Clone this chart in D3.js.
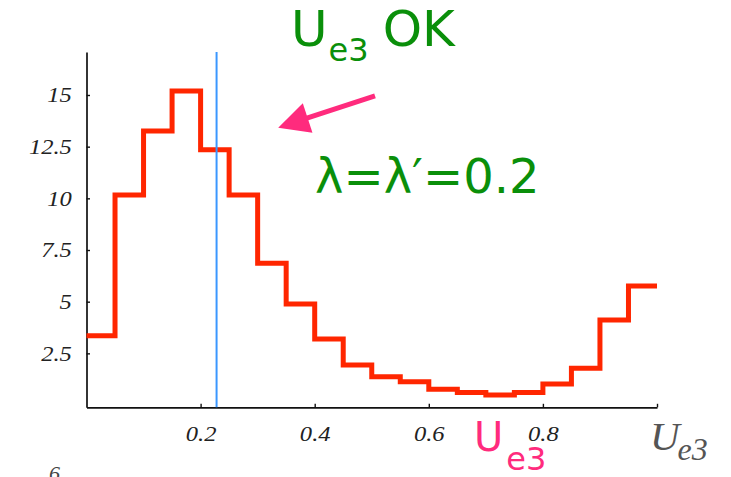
<!DOCTYPE html>
<html>
<head>
<meta charset="utf-8">
<script src="https://cdn.jsdelivr.net/npm/d3@7"></script>
<style>
  html, body { margin: 0; padding: 0; background: #fff; }
  svg { display: block; }
</style>
</head>
<body>
<svg id="chart" width="731" height="477"></svg>
<script>
// Histogram of |U_e3| for lambda = lambda' = 0.2 (20 bins of width 0.05)
const binLower = [0.00, 0.05, 0.10, 0.15, 0.20, 0.25, 0.30, 0.35, 0.40, 0.45,
                  0.50, 0.55, 0.60, 0.65, 0.70, 0.75, 0.80, 0.85, 0.90, 0.95];
const binWidth = 0.05;
const counts = [3.35, 10.16, 13.26, 15.19, 12.35, 10.16, 6.86, 4.89, 3.19, 1.94,
                1.37, 1.13, 0.76, 0.61, 0.48, 0.61, 1.02, 1.78, 4.11, 5.76];

// experimental bound on U_e3
const ue3Bound = 0.228;

const xTickValues = [0.2, 0.4, 0.6, 0.8, 1.0];
const xTickLabels = ["0.2", "0.4", "0.6", "0.8", ""];
const yTickValues = [2.5, 5, 7.5, 10, 12.5, 15];
const yTickLabels = ["2.5", "5", "7.5", "10", "12.5", "15"];

// arrow annotation, in data units: tail and tip
const arrowTail = [0.5057, 14.96];
const arrowTip = [0.336, 13.42];

const svg = d3.select("#chart");

const x = d3.scaleLinear().domain([0, 1]).range([86.5, 657]);
const y = d3.scaleLinear().domain([-0.11, 17.08]).range([407.3, 52]);

const tickFont = "'Liberation Serif', 'Times New Roman', serif";

// x axis
const xAxis = svg.append("g")
  .attr("transform", `translate(0,${y(y.domain()[0])})`)
  .call(d3.axisBottom(x)
    .tickValues(xTickValues)
    .tickFormat((d, i) => xTickLabels[i])
    .tickSizeInner(-3.5)
    .tickSizeOuter(0)
    .tickPadding(18.5));
xAxis.select(".domain").attr("stroke", "#111").attr("stroke-width", 1.7);
xAxis.selectAll(".tick line").attr("stroke", "#111").attr("stroke-width", 1.4);
xAxis.selectAll(".tick text")
  .attr("font-family", tickFont)
  .attr("font-style", "italic")
  .attr("font-size", 21)
  .attr("fill", "#222")
  .attr("transform", "scale(1.17,1)");

// y axis
const yAxis = svg.append("g")
  .attr("transform", `translate(${x(0)},0)`)
  .call(d3.axisLeft(y)
    .tickValues(yTickValues)
    .tickFormat((d, i) => yTickLabels[i])
    .tickSizeInner(-3.5)
    .tickSizeOuter(0)
    .tickPadding(12.5));
yAxis.select(".domain").attr("stroke", "#111").attr("stroke-width", 1.7);
yAxis.selectAll(".tick line").attr("stroke", "#111").attr("stroke-width", 1.4);
yAxis.selectAll(".tick text")
  .attr("font-family", tickFont)
  .attr("font-style", "italic")
  .attr("font-size", 21)
  .attr("fill", "#222")
  .attr("transform", "scale(1.17,1)");

// histogram as a step outline
const stepPoints = binLower.map((b, i) => [b, counts[i]]);
stepPoints.push([binLower[binLower.length - 1] + binWidth, counts[counts.length - 1]]);

const stepLine = d3.line()
  .x(d => x(d[0]))
  .y(d => y(d[1]))
  .curve(d3.curveStepAfter);

svg.append("path")
  .datum(stepPoints)
  .attr("d", stepLine)
  .attr("fill", "none")
  .attr("stroke", "#ff2600")
  .attr("stroke-width", 5)
  .attr("stroke-linejoin", "miter");

// vertical marker for the U_e3 bound
svg.append("line")
  .attr("x1", x(ue3Bound)).attr("x2", x(ue3Bound))
  .attr("y1", y(y.domain()[1])).attr("y2", y(y.domain()[0]))
  .attr("stroke", "#3a97ff")
  .attr("stroke-width", 2);

// x axis title
const axisTitle = svg.append("text")
  .attr("x", 650).attr("y", 450)
  .attr("font-family", tickFont)
  .attr("font-style", "italic")
  .attr("fill", "#555");
axisTitle.append("tspan").attr("font-size", 41).text("U");
axisTitle.append("tspan").attr("font-size", 32).attr("dx", -2).attr("dy", 10).text("e3");

// stray label at the lower-left edge
svg.append("text")
  .attr("x", 49).attr("y", 481)
  .attr("font-family", tickFont)
  .attr("font-style", "italic")
  .attr("font-size", 22)
  .attr("fill", "#444")
  .text("6");

// annotations
const sans = "'DejaVu Sans', Verdana, sans-serif";
const green = "#0a8f0a";
const pink = "#ff2b7d";

const okText = svg.append("text")
  .attr("x", 291).attr("y", 46)
  .attr("font-family", sans)
  .attr("fill", green);
okText.append("tspan").attr("font-size", 50).text("U");
okText.append("tspan").attr("font-size", 32).attr("dx", 1).attr("dy", 15).text("e3");
okText.append("tspan").attr("font-size", 50).attr("dx", 14).attr("dy", -15).text("OK");

svg.append("text")
  .attr("x", 315).attr("y", 192.5)
  .attr("font-family", sans)
  .attr("font-size", 48)
  .attr("fill", green)
  .text("λ=λ′=0.2");

const ueLabel = svg.append("text")
  .attr("x", 474).attr("y", 451)
  .attr("font-family", sans)
  .attr("fill", pink);
ueLabel.append("tspan").attr("font-size", 40).text("U");
ueLabel.append("tspan").attr("font-size", 32).attr("dx", 3).attr("dy", 19).text("e3");

// arrow
const tail = [x(arrowTail[0]), y(arrowTail[1])];
const tip = [x(arrowTip[0]), y(arrowTip[1])];
const ang = Math.atan2(tip[1] - tail[1], tip[0] - tail[0]);
const headLen = 31, headHalf = 15.5;
const base = [tip[0] - headLen * Math.cos(ang), tip[1] - headLen * Math.sin(ang)];
const nx = -Math.sin(ang), ny = Math.cos(ang);

svg.append("line")
  .attr("x1", tail[0]).attr("y1", tail[1])
  .attr("x2", base[0] + 4 * Math.cos(ang)).attr("y2", base[1] + 4 * Math.sin(ang))
  .attr("stroke", pink)
  .attr("stroke-width", 5);

svg.append("polygon")
  .attr("points", [
    tip,
    [base[0] + nx * headHalf, base[1] + ny * headHalf],
    [base[0] - nx * headHalf, base[1] - ny * headHalf]
  ].map(p => p.join(",")).join(" "))
  .attr("fill", pink);
</script>
</body>
</html>
